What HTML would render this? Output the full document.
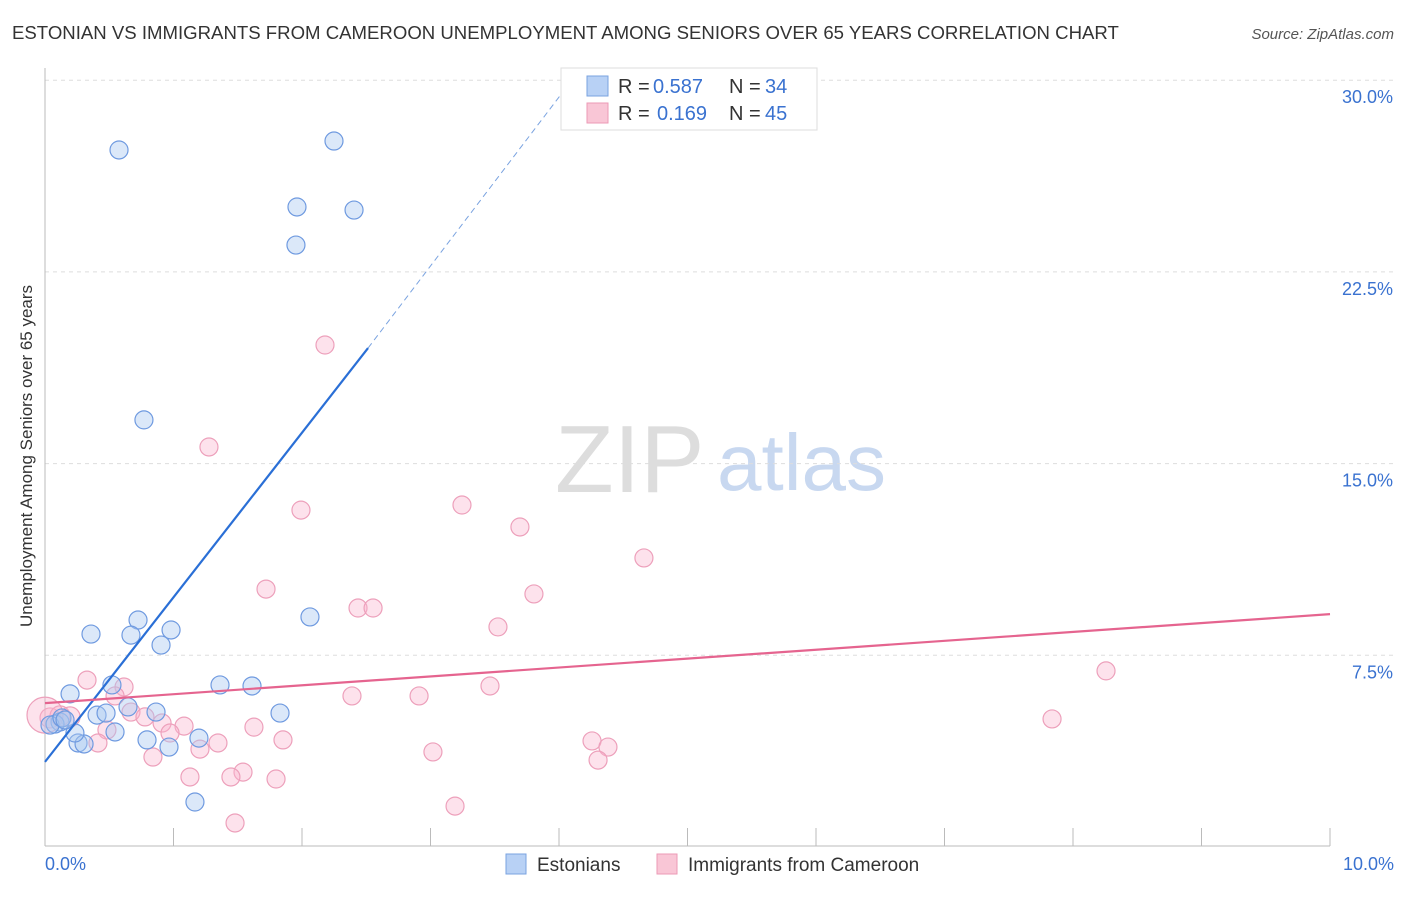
<!DOCTYPE html>
<html><head><meta charset="utf-8"><style>
body{margin:0;background:#fff;font-family:"Liberation Sans",sans-serif}
svg text{font-family:"Liberation Sans",sans-serif}
</style></head><body>
<svg width="1406" height="892" id="c">
<text x="12" y="39" font-size="18.6" fill="#333">ESTONIAN VS IMMIGRANTS FROM CAMEROON UNEMPLOYMENT AMONG SENIORS OVER 65 YEARS CORRELATION CHART</text>
<text x="1394" y="39" font-size="15" fill="#555" font-style="italic" text-anchor="end">Source: ZipAtlas.com</text>
<text x="32" y="456" font-size="17" fill="#333" text-anchor="middle" transform="rotate(-90 32 456)">Unemployment Among Seniors over 65 years</text>
<text x="555" y="492" font-size="96" fill="#ddd" font-family="Liberation Serif">ZIP</text>
<text x="717" y="490" font-size="80" fill="#c8d8f0">atlas</text>
<g id="grid"></g><g id="pts"></g><g id="lines"></g>
<g>
<rect x="561" y="68" width="256" height="62" fill="#fff" stroke="#ddd"/>
<rect x="587" y="76" width="21" height="20" fill="#b8d1f5" stroke="#7aa3e0"/>
<rect x="587" y="103" width="21" height="20" fill="#f9c6d6" stroke="#ec9ab6"/>
<text x="618" y="93" font-size="20" fill="#333">R =</text>
<text x="653" y="93" font-size="20" fill="#3a72d0">0.587</text>
<text x="729" y="93" font-size="20" fill="#333">N =</text>
<text x="765" y="93" font-size="20" fill="#3a72d0">34</text>
<text x="618" y="120" font-size="20" fill="#333">R =</text>
<text x="657" y="120" font-size="20" fill="#3a72d0">0.169</text>
<text x="729" y="120" font-size="20" fill="#333">N =</text>
<text x="765" y="120" font-size="20" fill="#3a72d0">45</text>
</g>
<g>
<rect x="506" y="854" width="20" height="20" fill="#b8d1f5" stroke="#7aa3e0"/>
<text x="537" y="871" font-size="19" fill="#333">Estonians</text>
<rect x="657" y="854" width="20" height="20" fill="#f9c6d6" stroke="#ec9ab6"/>
<text x="688" y="871" font-size="19" fill="#333">Immigrants from Cameroon</text>
</g>
<text x="45" y="870" font-size="18" fill="#3a72d0">0.0%</text>
<text x="1394" y="870" font-size="18" fill="#3a72d0" text-anchor="end">10.0%</text>
</svg>
<script>
const yTicks=[7.5,15,22.5,30];
const yTickLabels=["7.5%","15.0%","22.5%","30.0%"];
const blueX=[0.576,2.249,1.961,2.405,1.953,0.770,0.358,0.724,0.669,0.981,0.903,2.062,0.195,0.521,1.362,1.611,0.405,0.646,0.475,0.864,1.829,0.545,0.794,0.965,1.198,0.257,0.304,1.167,0.233,0.117,0.078,0.039,0.132,0.156];
const blueY=[27.27,27.62,25.04,24.92,23.55,16.71,8.33,8.88,8.29,8.49,7.90,9.00,5.99,6.34,6.34,6.30,5.16,5.48,5.24,5.28,5.24,4.50,4.19,3.91,4.26,4.07,4.03,1.76,4.46,4.89,4.81,4.77,5.05,4.97];
const pinkX=[2.179,1.276,1.992,3.245,3.696,4.661,1.720,3.805,2.436,2.553,3.525,8.257,0.327,0.615,3.463,2.389,2.911,0.545,0.669,0.778,0.911,1.082,1.626,7.837,0.482,0.973,0.412,1.346,1.852,4.257,4.381,3.019,0.840,1.206,1.541,1.128,1.447,1.798,4.304,3.191,1.479,0.039,0.117,0.195,0.0];
const pinkY=[19.64,15.65,13.18,13.38,12.52,11.31,10.09,9.90,9.35,9.35,8.61,6.89,6.53,6.26,6.30,5.91,5.91,5.91,5.28,5.09,4.85,4.73,4.69,5.01,4.58,4.46,4.07,4.07,4.19,4.15,3.91,3.72,3.52,3.83,2.93,2.74,2.74,2.66,3.40,1.60,0.94,5.05,5.13,5.09,5.16];
const blueLine=[[0,3.33],[2.514,19.52],[4.1,30]];
const pinkLine=[[0,5.63],[10,9.11]];
const X=v=>45+v*128.5, Y=v=>847-v*25.56;
const NS="http://www.w3.org/2000/svg";
function mk(t,a,p){const e=document.createElementNS(NS,t);for(const k in a)e.setAttribute(k,a[k]);document.getElementById(p).appendChild(e);return e;}
yTicks.forEach((t,i)=>{
 const g=mk('line',{x1:45,x2:1394,y1:Y(t),y2:Y(t),stroke:'#ddd','stroke-dasharray':'4,4'},'grid');
 
 
 const tx=mk('text',{x:1393,y:Y(t)+23,'font-size':18,fill:'#3a72d0','text-anchor':'end'},'grid');
 tx.textContent=yTickLabels[i];
 
 
});
for(let i=0;i<=10;i++){const t=mk('line',{x1:X(i),x2:X(i),y1:828,y2:846,stroke:'#bbb'},'grid');
 
 }
mk('line',{x1:45,x2:45,y1:68,y2:846,stroke:'#bbb'},'grid');
mk('line',{x1:45,x2:1330,y1:846,y2:846,stroke:'#bbb'},'grid');
pinkX.forEach((x,i)=>{const c=mk('circle',{cx:X(x),cy:Y(pinkY[i]),r:i>=41?(i==44?18:10):9,fill:'rgba(249,180,204,0.38)',stroke:'#eda0bb','stroke-width':1.2},'pts');
 
 });
blueX.forEach((x,i)=>{const c=mk('circle',{cx:X(x),cy:Y(blueY[i]),r:9,fill:'rgba(170,200,240,0.42)',stroke:'#6f9ae0','stroke-width':1.2},'pts');
 
 });
const bl=mk('line',{x1:X(blueLine[0][0]),y1:Y(blueLine[0][1]),x2:X(blueLine[1][0]),y2:Y(blueLine[1][1]),stroke:'#2a6fd6','stroke-width':2.2},'lines');


const bd=mk('line',{x1:X(blueLine[1][0]),y1:Y(blueLine[1][1]),x2:X(blueLine[2][0]),y2:Y(blueLine[2][1]),stroke:'#7aa3e0','stroke-width':1,'stroke-dasharray':'6,4'},'lines');


const pl=mk('line',{x1:X(pinkLine[0][0]),y1:Y(pinkLine[0][1]),x2:X(pinkLine[1][0]),y2:Y(pinkLine[1][1]),stroke:'#e5648f','stroke-width':2.2},'lines');


</script>
</body></html>
